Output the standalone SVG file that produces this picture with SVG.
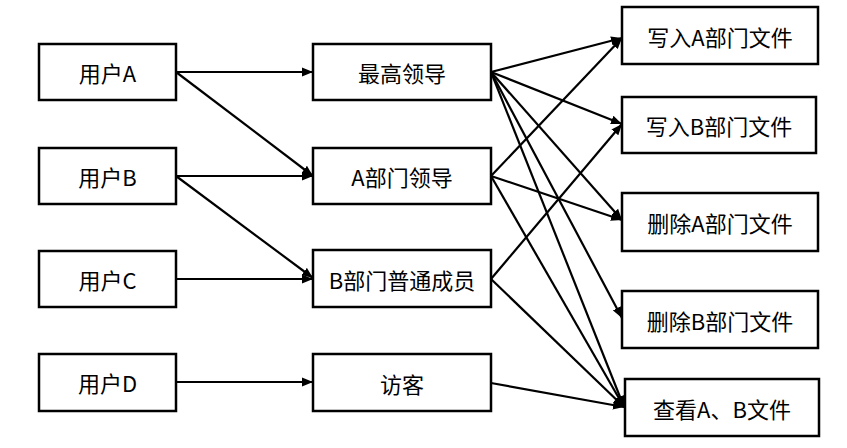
<svg xmlns="http://www.w3.org/2000/svg" width="847" height="448" viewBox="0 0 847 448">
<style>
.box{fill:#fff;stroke:#000;stroke-width:2.5}
.lbl{font-family:"Noto Sans CJK SC","Noto Sans",sans-serif;font-size:22px;fill:#000;text-anchor:middle;dominant-baseline:central}
.c{stroke:#000;stroke-width:2.2;fill:none;marker-end:url(#ah)}
</style>
<defs>
<marker id="ah" markerUnits="userSpaceOnUse" markerWidth="12" markerHeight="10" refX="11" refY="5" orient="auto">
<path d="M0,0.5 L11,5 L0,9.5 z" fill="#000"/>
</marker>
</defs>
<rect width="847" height="448" fill="#fff"/>
<g id="userA"><rect class="box" x="39" y="44" width="137" height="56"/><text class="lbl" x="107.5" y="72">用户A</text></g>
<g id="userB"><rect class="box" x="39" y="148" width="137" height="56"/><text class="lbl" x="107.5" y="176">用户B</text></g>
<g id="userC"><rect class="box" x="39" y="251" width="137" height="56"/><text class="lbl" x="107.5" y="279">用户C</text></g>
<g id="userD"><rect class="box" x="39" y="354" width="137" height="57"/><text class="lbl" x="107.5" y="382">用户D</text></g>
<g id="top"><rect class="box" x="313" y="44" width="178" height="56"/><text class="lbl" x="402" y="72">最高领导</text></g>
<g id="deptA"><rect class="box" x="313" y="148" width="178" height="56"/><text class="lbl" x="402" y="176">A部门领导</text></g>
<g id="deptB"><rect class="box" x="313" y="250" width="178" height="57"/><text class="lbl" x="402" y="279">B部门普通成员</text></g>
<g id="guest"><rect class="box" x="313" y="354" width="178" height="57"/><text class="lbl" x="402" y="383">访客</text></g>
<g id="writeA"><rect class="box" x="622" y="7" width="196" height="57"/><text class="lbl" x="720" y="36">写入A部门文件</text></g>
<g id="writeB"><rect class="box" x="622" y="97" width="194" height="56"/><text class="lbl" x="719" y="125">写入B部门文件</text></g>
<g id="delA"><rect class="box" x="622" y="193" width="196" height="58"/><text class="lbl" x="720" y="222">删除A部门文件</text></g>
<g id="delB"><rect class="box" x="622" y="291" width="196" height="57"/><text class="lbl" x="720" y="320">删除B部门文件</text></g>
<g id="view"><rect class="box" x="625" y="379" width="194" height="57"/><text class="lbl" x="722" y="408">查看A、B文件</text></g>
<g id="connectors">
<line class="c" x1="176" y1="72" x2="313" y2="72"/>
<line class="c" x1="176" y1="72" x2="313" y2="176"/>
<line class="c" x1="176" y1="176" x2="313" y2="176"/>
<line class="c" x1="176" y1="176" x2="313" y2="278"/>
<line class="c" x1="176" y1="279" x2="313" y2="279"/>
<line class="c" x1="176" y1="382" x2="313" y2="382"/>
<line class="c" x1="491" y1="72" x2="622" y2="38"/>
<line class="c" x1="491" y1="72" x2="622" y2="124"/>
<line class="c" x1="491" y1="72" x2="622" y2="220"/>
<line class="c" x1="491" y1="72" x2="622" y2="318"/>
<line class="c" x1="491" y1="72" x2="624" y2="407"/>
<line class="c" x1="491" y1="176" x2="622" y2="38"/>
<line class="c" x1="491" y1="176" x2="622" y2="220"/>
<line class="c" x1="491" y1="176" x2="624" y2="407"/>
<line class="c" x1="491" y1="279" x2="622" y2="124"/>
<line class="c" x1="491" y1="279" x2="624" y2="407"/>
<line class="c" x1="491" y1="383" x2="624" y2="407"/>
</g>
</svg>
